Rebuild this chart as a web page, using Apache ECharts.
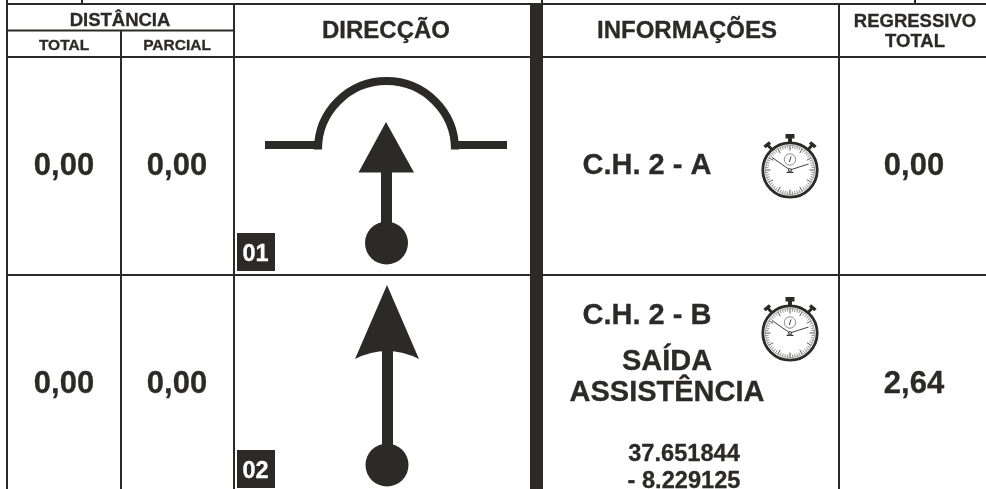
<!DOCTYPE html>
<html>
<head>
<meta charset="utf-8" />
<title>Roadbook</title>
<script src="https://cdn.jsdelivr.net/npm/echarts@6/dist/echarts.min.js"></script>
<style>
  html, body { margin: 0; padding: 0; background: #fff; }
  #main { width: 986px; height: 489px; }
</style>
</head>
<body>
<div id="main"></div>
<script>
// table content
var distanciaTotal = ['0,00', '0,00'];
var distanciaParcial = ['0,00', '0,00'];
var regressivoTotal = ['0,00', '2,64'];
var casas = ['01', '02'];
var controlos = ['C.H. 2 - A', 'C.H. 2 - B'];
var headers = ['DISTÂNCIA', 'TOTAL', 'PARCIAL', 'DIRECÇÃO', 'INFORMAÇÕES', 'REGRESSIVO', 'TOTAL'];
var saida = ['SAÍDA', 'ASSISTÊNCIA'];
var coords = ['37.651844', '- 8.229125'];

var INK = '#2b2a29';
var FONT = '"Liberation Sans", Arial, sans-serif';
var MID = 0.26; // distance from baseline to text middle, in em

// page layout, in axis units (1 unit = 1px)
var rowBase = [175, 393];
var colTotal = 64, colParcial = 177, colRegr = 914;

// rules: x0, y0, x1, y1
var rules = [
  [6, 3, 986, 5],       // top line
  [6, 0, 8, 489],       // left border
  [81, 0, 83, 4],
  [541, 0, 543, 4],
  [914, 0, 916, 4],
  [6, 29.5, 234, 31.5],
  [6, 56, 986, 58],
  [6, 274, 986, 276],
  [120, 30, 122, 489],
  [233, 4, 235, 489],
  [838, 4, 840, 489],
  [530, 4, 543, 489]    // thick divider
];

// text: string, x, baseline y, size
var labels = [
  [headers[0], 120, 26, 18.5],
  [headers[1], 64, 50, 15.5],
  [headers[2], 177, 50, 15.5],
  [headers[3], 386, 38, 24],
  [headers[4], 687, 38, 24],
  [headers[5], 915, 27, 18.5],
  [headers[6], 915, 47, 18.5],
  [controlos[0], 647, 174, 29],
  [controlos[1], 647, 324, 29],
  [saida[0], 667, 370, 29],
  [saida[1], 667, 401, 29],
  [coords[0], 684, 461, 23.6],
  [coords[1], 684, 488, 23.6]
];
rowBase.forEach(function (y, i) {
  labels.push([distanciaTotal[i], colTotal, y, 31]);
  labels.push([distanciaParcial[i], colParcial, y, 31]);
  labels.push([regressivoTotal[i], colRegr, y, 31]);
});

// number tags: x0, y0, x1, y1, text
var tags = [
  [237, 233, 275, 271, casas[0]],
  [237, 450, 275, 488, casas[1]]
];

// stopwatch centres
var watches = [[790, 170], [790, 333]];

function pt(api, x, y) { return api.coord([x, y]); }

function rectEl(api, x0, y0, x1, y1, fill) {
  var a = pt(api, x0, y0), b = pt(api, x1, y1);
  return { type: 'rect', shape: { x: a[0], y: a[1], width: b[0] - a[0], height: b[1] - a[1] }, style: { fill: fill } };
}

function circleEl(api, cx, cy, r, style) {
  var c = pt(api, cx, cy);
  return { type: 'circle', shape: { cx: c[0], cy: c[1], r: api.size([r, 0])[0] }, style: style };
}

function polyEl(api, pts) {
  return { type: 'polygon', shape: { points: pts.map(function (p) { return pt(api, p[0], p[1]); }) }, style: { fill: INK } };
}

function lineEl(api, x0, y0, x1, y1, w) {
  var a = pt(api, x0, y0), b = pt(api, x1, y1);
  return { type: 'line', shape: { x1: a[0], y1: a[1], x2: b[0], y2: b[1] }, style: { stroke: INK, lineWidth: w } };
}

function textEl(api, s, x, base, size, fill) {
  var c = pt(api, x, base - MID * size);
  return { type: 'text', z2: 5, style: { text: s, x: c[0], y: c[1], align: 'center', verticalAlign: 'middle', font: 'bold ' + size + 'px ' + FONT, fill: fill, stroke: fill, lineWidth: 0.3 } };
}

function renderRule(params, api) {
  return rectEl(api, api.value(0), api.value(1), api.value(2), api.value(3), INK);
}

function renderTag(params, api) {
  var t = tags[params.dataIndex];
  return {
    type: 'group',
    children: [
      rectEl(api, t[0], t[1], t[2], t[3], INK),
      textEl(api, t[4], (t[0] + t[2]) / 2 - 0.5, t[3] - 10, 23.5, '#fff')
    ]
  };
}

function renderLabel(params, api) {
  var l = labels[params.dataIndex];
  return textEl(api, l[0], l[1], l[2], l[3], INK);
}

function renderArrow1(params, api) {
  var a = pt(api, 386.5, 149.5);
  var r = api.size([68.5, 0])[0];
  return {
    type: 'group',
    children: [
      rectEl(api, 265, 141, 322, 149, INK),
      rectEl(api, 452, 141, 507, 149, INK),
      { type: 'arc', shape: { cx: a[0], cy: a[1], r: r, startAngle: Math.PI, endAngle: Math.PI * 2, clockwise: true }, style: { stroke: INK, fill: 'none', lineWidth: 8 } },
      polyEl(api, [[386, 122], [414, 172.5], [358.5, 172.5]]),
      rectEl(api, 381, 172, 392, 230, INK),
      circleEl(api, 386.5, 243, 21.5, { fill: INK })
    ]
  };
}

function renderArrow2(params, api) {
  var tip = pt(api, 387, 285), r = pt(api, 419, 359), c = pt(api, 387, 343), l = pt(api, 355, 359);
  var d = 'M' + tip + 'L' + r + 'Q' + c + ' ' + l + 'Z';
  return {
    type: 'group',
    children: [
      { type: 'path', shape: { pathData: d }, style: { fill: INK } },
      rectEl(api, 382, 345, 393, 450, INK),
      circleEl(api, 387, 465, 21.5, { fill: INK })
    ]
  };
}

function renderWatch(params, api) {
  var cx = api.value(0), cy = api.value(1);
  var ch = [];
  // crown and pushers
  ch.push(rectEl(api, cx - 4.5, cy - 36, cx + 4.5, cy - 31.5, INK));
  ch.push(rectEl(api, cx - 2, cy - 32, cx + 2, cy - 27, INK));
  [-1, 1].forEach(function (s) {
    ch.push(lineEl(api, cx + s * 18.5, cy - 21, cx + s * 23, cy - 25.5, 3));
    ch.push(lineEl(api, cx + s * 20, cy - 27.5, cx + s * 25.5, cy - 23, 3.5));
  });
  // case and face
  ch.push(circleEl(api, cx, cy, 27.2, { fill: '#fff', stroke: INK, lineWidth: 2.8 }));
  ch.push(circleEl(api, cx, cy, 24.6, { fill: '#fff', stroke: '#555', lineWidth: 0.5 }));
  // dial ticks
  for (var i = 0; i < 60; i++) {
    var ang = i * Math.PI / 30;
    var major = i % 5 === 0;
    var r0 = major ? 19.5 : 21.5, r1 = 24.4;
    ch.push(lineEl(api, cx + r0 * Math.sin(ang), cy - r0 * Math.cos(ang), cx + r1 * Math.sin(ang), cy - r1 * Math.cos(ang), major ? 0.8 : 0.5));
  }
  // sub dial
  ch.push(circleEl(api, cx, cy - 10.5, 5.7, { fill: '#fff', stroke: '#444', lineWidth: 0.6 }));
  ch.push(lineEl(api, cx - 0.7, cy - 8, cx + 1, cy - 13.5, 0.9));
  // hands
  ch.push(lineEl(api, cx, cy, cx - 18, cy - 12.5, 0.9));
  ch.push(lineEl(api, cx, cy, cx + 18.5, cy - 6, 0.9));
  ch.push(lineEl(api, cx - 3.5, cy + 2.5, cx + 3.5, cy + 2.5, 0.9));
  ch.push(lineEl(api, cx - 2, cy - 1, cx + 3, cy + 2.5, 0.7));
  ch.push(lineEl(api, cx + 2, cy - 1, cx - 3, cy + 2.5, 0.7));
  ch.push(circleEl(api, cx, cy, 1.4, { fill: '#fff', stroke: INK, lineWidth: 0.9 }));
  return { type: 'group', children: ch };
}

var chart = echarts.init(document.getElementById('main'), null, { renderer: 'canvas' });
chart.setOption({
  animation: false,
  backgroundColor: '#fff',
  grid: { left: 0, right: 0, top: 0, bottom: 0 },
  xAxis: { type: 'value', min: 0, max: 986, show: false },
  yAxis: { type: 'value', min: 0, max: 489, inverse: true, show: false },
  series: [
    { name: 'rules', type: 'custom', clip: true, silent: true, renderItem: renderRule, encode: { x: [0, 2], y: [1, 3] }, data: rules },
    { name: 'arrow1', type: 'custom', clip: true, silent: true, renderItem: renderArrow1, data: [[386, 180]] },
    { name: 'arrow2', type: 'custom', clip: true, silent: true, renderItem: renderArrow2, data: [[387, 380]] },
    { name: 'tags', type: 'custom', clip: true, silent: true, renderItem: renderTag, data: tags.map(function (t) { return [t[0], t[1]]; }) },
    { name: 'watches', type: 'custom', clip: true, silent: true, renderItem: renderWatch, data: watches },
    { name: 'labels', type: 'custom', clip: true, silent: true, renderItem: renderLabel, data: labels.map(function (l) { return [l[1], l[2]]; }) }
  ]
});
</script>
</body>
</html>
